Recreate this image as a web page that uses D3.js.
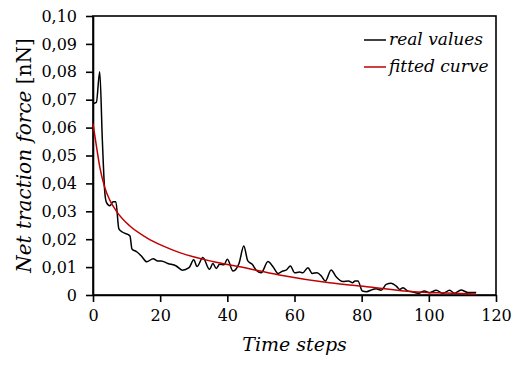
<!DOCTYPE html>
<html>
<head>
<meta charset="utf-8">
<script src="https://cdn.jsdelivr.net/npm/d3@7"></script>
<style>
  body { margin: 0; background: #fff; }
  .axis path, .axis line { stroke: #000; stroke-width: 1.6; }
  .line { fill: none; stroke-width: 1.5; }
</style>
</head>
<body>
<div id="chart"></div>
<script>
// real values (black line)
var realT = [0, 1, 2, 2.8, 3.5, 4, 5, 6, 6.8, 7.7, 9, 11, 11.6, 13, 14.4, 16, 17.9, 19.3, 20.3, 22.3,
    24.8, 26.6, 28.6, 30, 31, 32.7, 34.7, 35.7, 36.7, 37.7, 39, 40, 41.7, 43.5, 44.9, 46.1, 47.4, 48.6,
    50.1, 52.1, 53.6, 55.1, 56.5, 57.5, 58.8, 60, 61.5, 62.5, 64, 65.3, 66.7, 68, 69.2, 70.9, 72.4,
    74.4, 76.1, 77.3, 78, 78.9, 80.2, 81.4, 83.3, 84.3, 85.8, 87.3, 88.8, 90.3, 91.3, 92.3, 93.8,
    95.3, 96.7, 98.7, 100.2, 102.2, 104.2, 106.2, 107.6, 109.6, 111.6, 114.1];
var realV = [0.0686, 0.0690, 0.0800, 0.0550, 0.0370, 0.0332, 0.0320, 0.0334, 0.0334, 0.0237, 0.0224, 0.0212, 0.0165, 0.0155, 0.0140, 0.0119, 0.0130, 0.0122, 0.0122, 0.0113,
    0.0104, 0.0089, 0.0098, 0.0126, 0.0102, 0.0134, 0.0092, 0.0113, 0.0095, 0.0110, 0.0108, 0.0128, 0.0086, 0.0114, 0.0176, 0.0122, 0.0110, 0.0089,
    0.0080, 0.0120, 0.0101, 0.0077, 0.0086, 0.0089, 0.0104, 0.0080, 0.0082, 0.0080, 0.0098, 0.0077, 0.0080, 0.0068, 0.0050, 0.0090, 0.0065,
    0.0048, 0.0050, 0.0044, 0.0050, 0.0050, 0.0014, 0.0012, 0.0020, 0.0022, 0.0017, 0.0038, 0.0042, 0.0032, 0.0020, 0.0026, 0.0014,
    0.0011, 0.0006, 0.0014, 0.0008, 0.0017, 0.0006, 0.0017, 0.0006, 0.0018, 0.0009, 0.0009];

// fitted curve (red line)
var fitT = [0, 1, 2, 3.5, 5, 7, 10.9, 15.9, 20.8, 25.8, 35.7, 43.7, 55.5, 70.4, 82.3, 95.3, 105, 114];
var fitV = [0.0614, 0.0535, 0.0460, 0.0385, 0.0340, 0.0300, 0.0248, 0.0206, 0.0176, 0.0152, 0.0120, 0.0101, 0.0072, 0.0044, 0.0029, 0.0012, 0.0007, 0.0004];

var xTicks = [0, 20, 40, 60, 80, 100, 120];
var yTicks = [0, 0.01, 0.02, 0.03, 0.04, 0.05, 0.06, 0.07, 0.08, 0.09, 0.10];
var seriesNames = ["real values", "fitted curve"];
var seriesColors = ["#000000", "#c00000"];

// only serif face that is there
var serif = "DejaVu Serif";

var pwidth = 512;
var pheight = 365;
var margin = {top: 16, right: 16, bottom: 70, left: 93}
    , width = pwidth - margin.left - margin.right
    , height = pheight - margin.top - margin.bottom;

var xScale = d3.scaleLinear()
    .domain([0, 120])
    .range([0, width]);

var yScale = d3.scaleLinear()
    .domain([0, 0.10])
    .range([height, 0]);

var svg = d3.select("#chart").append("svg")
    .attr("width", pwidth)
    .attr("height", pheight)
    .append("g")
    .attr("transform", "translate(" + margin.left + "," + margin.top + ")");

// frame (top and right edges)
svg.append("rect")
    .attr("x", 0)
    .attr("y", 0)
    .attr("width", xScale(120))
    .attr("height", yScale(0))
    .attr("fill", "none")
    .attr("stroke", "#000")
    .attr("stroke-width", 1.6);

svg.append("g")
    .attr("class", "x axis")
    .attr("transform", "translate(0," + height + ")")
    .call(d3.axisBottom(xScale).tickValues(xTicks).tickSize(7).tickSizeOuter(0).tickPadding(8));

svg.append("g")
    .attr("class", "y axis")
    .call(d3.axisLeft(yScale).tickValues(yTicks).tickSize(7).tickSizeOuter(0).tickPadding(9)
        .tickFormat(function(d) { return d === 0 ? "0" : d3.format(".2f")(d).replace(".", ","); }));

svg.selectAll(".axis")
    .attr("font-family", serif)
    .attr("font-size", 16);
svg.selectAll(".axis text").attr("fill", "#000");

var line = d3.line()
    .x(function(d) { return xScale(d.t); })
    .y(function(d) { return yScale(d.v); })
    .curve(d3.curveMonotoneX);

var realData = realT.map(function(t, i) { return {t: t, v: realV[i]}; });
var fitData = fitT.map(function(t, i) { return {t: t, v: fitV[i]}; });

svg.append("path")
    .datum(realData)
    .attr("class", "line")
    .attr("stroke", seriesColors[0])
    .attr("d", line);

svg.append("path")
    .datum(fitData)
    .attr("class", "line")
    .attr("stroke", seriesColors[1])
    .attr("d", line);

// legend
var legend = svg.selectAll(".legend")
    .data(seriesNames)
    .enter().append("g")
    .attr("class", "legend")
    .attr("transform", function(d, i) { return "translate(" + (width - 132) + "," + (24 + i * 27) + ")"; });

legend.append("line")
    .attr("x1", 0)
    .attr("x2", 22)
    .attr("stroke", function(d, i) { return seriesColors[i]; })
    .attr("stroke-width", 1.5);

legend.append("text")
    .attr("x", 25)
    .attr("y", 5)
    .attr("font-family", serif)
    .attr("font-size", 17)
    .attr("font-style", "italic")
    .text(function(d) { return d; });

// axis titles
svg.append("text")
    .attr("x", width / 2)
    .attr("y", height + 56)
    .attr("text-anchor", "middle")
    .attr("font-family", serif)
    .attr("font-size", 19)
    .attr("font-style", "italic")
    .text("Time steps");

var ytitle = svg.append("text")
    .attr("transform", "translate(-62," + (height / 2) + ") rotate(-90)")
    .attr("text-anchor", "middle")
    .attr("font-family", serif)
    .attr("font-size", 20);
ytitle.append("tspan").attr("font-style", "italic").text("Net traction force ");
ytitle.append("tspan").text("[nN]");
</script>
</body>
</html>
